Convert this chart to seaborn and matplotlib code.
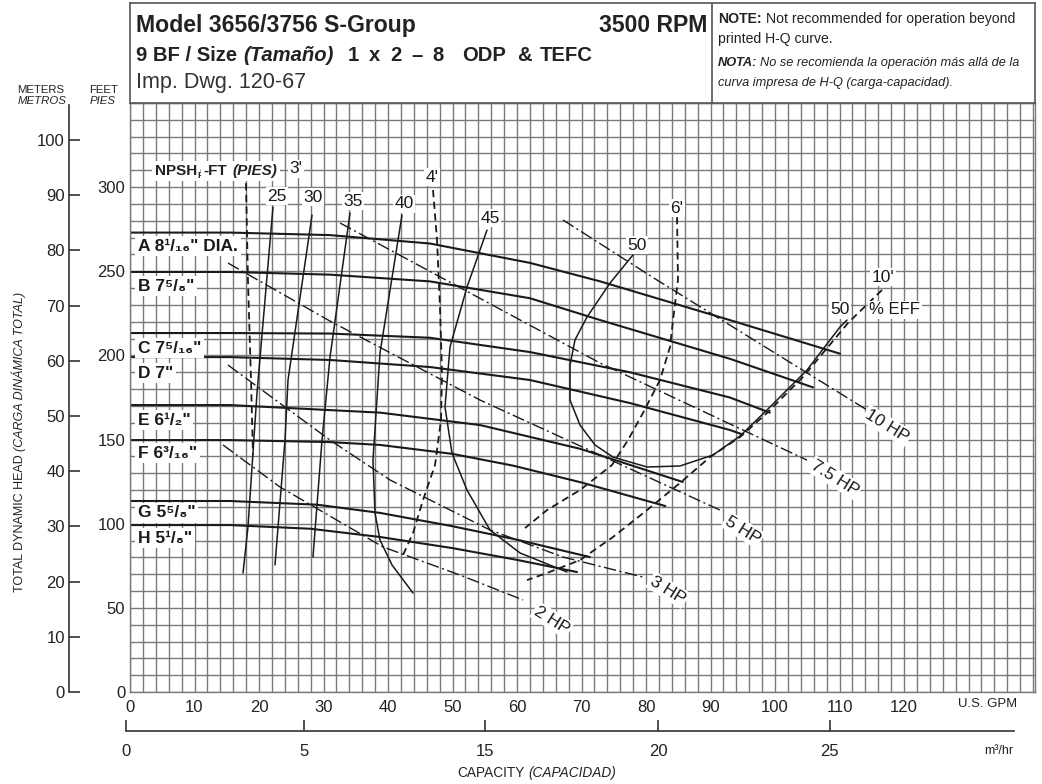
import matplotlib
matplotlib.use("Agg")
import numpy as np
import pandas as pd
import matplotlib.pyplot as plt
import seaborn as sns
from matplotlib import font_manager as fm

# ---------------- data (capacity in U.S. GPM, head in feet) ----------------
imp_labels = ['A 8¹/₁₆" DIA.', 'B 7⁵/₈"', 'C 7⁵/₁₆"', 'D 7"', 'E 6¹/₂"', 'F 6³/₁₆"', 'G 5⁵/₈"', 'H 5¹/₈"']
imp_A_q = [0, 15.5, 31.0, 46.5, 62.0, 72.9, 93.0, 110.1]
imp_A_h = [273, 273, 271.5, 266.5, 255, 244, 221, 201]
imp_B_q = [0, 15.5, 31.0, 46.5, 62.0, 72.9, 93.0, 105.9]
imp_B_h = [249.6, 249.6, 248, 244, 234, 221, 198, 181]
imp_C_q = [0, 15.5, 31.0, 46.5, 62.0, 77.5, 93.0, 99.2]
imp_C_h = [213.3, 213.3, 213, 210.5, 202, 190, 175, 166]
imp_D_q = [0, 15.5, 31.0, 46.5, 62.0, 77.5, 93.0, 95.0]
imp_D_h = [199, 199, 197.3, 193.1, 185.4, 171.7, 155.7, 153]
imp_E_q = [0, 15.5, 38.8, 54.3, 69.8, 85.7]
imp_E_h = [170.5, 170.5, 166, 158.6, 144.5, 124.8]
imp_F_q = [0, 15.5, 31.0, 38.8, 50.0, 59.4, 70.0, 83.0]
imp_F_h = [149.7, 149.7, 148.5, 146.8, 141.5, 134.5, 124.5, 110.5]
imp_G_q = [0, 15.5, 29.0, 38.8, 50.0, 60.0, 71.3]
imp_G_h = [113.5, 113.5, 111.3, 106.4, 98.5, 90.5, 80.2]
imp_H_q = [0, 15.5, 28.0, 38.8, 50.0, 60.0, 69.3]
imp_H_h = [99.2, 99.2, 97, 92.1, 85.5, 78.5, 71.3]

# efficiency curves (%)
eff25_q = [22.17, 19.69, 18.29, 17.52]
eff25_h = [288.2, 177.7, 98.0, 70.7]
eff30_q = [28.22, 24.50, 24.03, 22.48]
eff30_h = [283.4, 185.4, 149.7, 75.5]
eff35_q = [34.11, 31.01, 29.77, 28.37]
eff35_h = [284.6, 199.0, 149.7, 80.2]
eff40_q = [42.17, 38.76, 37.67, 37.98, 38.76, 40.62, 43.88]
eff40_h = [283.4, 201.4, 137.8, 106.4, 90.3, 75.5, 58.8]
eff45_q = [55.35, 52.25, 49.61, 48.84, 49.92, 52.25, 55.81, 60.47, 67.75]
eff45_h = [274.5, 240.6, 205.0, 169.3, 142.0, 120.0, 96.3, 82.6, 71.3]
eff50_q = [77.98, 74.42, 70.85, 68.99, 68.22, 68.22, 69.77, 72.09, 74.88, 80.16,
           85.27, 90.39, 94.57, 98.76, 104.96, 110.08, 111.16]
eff50_h = [259.7, 243.0, 222.8, 209.2, 194.3, 173.5, 158.6, 146.8, 139.6, 133.7,
           134.3, 140.8, 152.1, 167.6, 191.3, 216.9, 221.0]

# NPSHr curves (feet)
npsh3_q = [17.98, 18.29, 18.76, 19.07]
npsh3_h = [302.4, 244.8, 185.4, 140.8]
npsh4_q = [46.98, 47.60, 48.06, 48.37, 48.22, 47.29, 45.43, 43.88, 42.33]
npsh4_h = [298.3, 268.6, 228.8, 189.5, 161.6, 134.9, 114.1, 94.5, 81.4]
npsh6_q = [84.81, 84.96, 84.19, 83.72, 82.17, 79.53, 77.21, 74.73, 69.77, 64.65, 61.24]
npsh6_h = [282.2, 244.8, 221.0, 205.0, 185.4, 165.8, 149.7, 134.9, 120.0, 108.1, 97.4]
npsh10_q = [116.59, 111.32, 104.34, 98.76, 94.57, 89.92, 85.27, 80.16, 74.88, 69.77, 64.65, 61.55]
npsh10_h = [238.9, 219.3, 187.2, 165.8, 151.5, 139.6, 124.2, 108.1, 92.1, 78.4, 70.7, 66.5]

# horsepower lines
hp10_q = [67.13, 81.71, 114.26]
hp10_h = [280.5, 244.8, 167.6]
hp75_q = [32.56, 72.87, 104.96]
hp75_h = [278.7, 195.5, 137.8]
hp5_q = [15.19, 31.01, 54.26, 72.87, 91.47]
hp5_h = [254.9, 220.4, 173.5, 140.8, 108.1]
hp3_q = [15.19, 31.01, 40.31, 55.81, 67.13, 79.53]
hp3_h = [194.3, 149.7, 126.0, 96.3, 80.2, 68.3]
hp2_q = [14.42, 23.26, 39.22, 51.16, 60.93]
hp2_h = [146.8, 121.8, 86.2, 69.5, 54.7]

gpm_ticks = list(range(0, 121, 10))
feet_ticks = list(range(0, 301, 50))
meter_ticks = list(range(0, 101, 10))
metric_tick_gpm = [-0.6, 27.0, 55.0, 81.9, 108.5]
metric_tick_labels = ['0', '5', '15', '20', '25']

# ---------------- style ----------------
W, H = 1042, 784
sns.set_style("white")
avail = {f.name for f in fm.fontManager.ttflist}
BASE = ['Liberation Sans', 'DejaVu Sans']
plt.rcParams['font.family'] = BASE
HAS_NARROW = 'Liberation Sans Narrow' in avail


def narrow(size, **extra):
    if HAS_NARROW:
        d = dict(family=['Liberation Sans Narrow'] + BASE, fontsize=size)
    else:
        d = dict(family=BASE, fontsize=size * 0.82)
    d.update(extra)
    return d


fig = plt.figure(figsize=(W / 100, H / 100), dpi=100)


def fx(x):
    return x / W


def fy(y):
    return 1 - y / H


PX_PER_GPM = 6.45
X_MAX = 905 / PX_PER_GPM
Y_MAX = 350
GRID = '#7a7a7a'
INK = '#1a1a1a'

ax = fig.add_axes([fx(130), fy(692), 905 / W, 589 / H])


def curve(q, h, **kw):
    df = pd.DataFrame({'q': q, 'h': h})
    sns.lineplot(data=df, x='q', y='h', sort=False, estimator=None, ax=ax,
                 color=INK, **kw)


imp_q = [imp_A_q, imp_B_q, imp_C_q, imp_D_q, imp_E_q, imp_F_q, imp_G_q, imp_H_q]
imp_h = [imp_A_h, imp_B_h, imp_C_h, imp_D_h, imp_E_h, imp_F_h, imp_G_h, imp_H_h]
for q, h in zip(imp_q, imp_h):
    curve(q, h, lw=1.5)
for q, h in [(eff25_q, eff25_h), (eff30_q, eff30_h), (eff35_q, eff35_h),
             (eff40_q, eff40_h), (eff45_q, eff45_h), (eff50_q, eff50_h)]:
    curve(q, h, lw=1.1)
for q, h in [(npsh3_q, npsh3_h), (npsh4_q, npsh4_h), (npsh6_q, npsh6_h), (npsh10_q, npsh10_h)]:
    curve(q, h, lw=1.3, linestyle=(0, (4, 2.5)))
for q, h in [(hp10_q, hp10_h), (hp75_q, hp75_h), (hp5_q, hp5_h), (hp3_q, hp3_h), (hp2_q, hp2_h)]:
    curve(q, h, lw=1.0, linestyle=(0, (9, 2.5, 1.5, 2.5)))

ax.set_xlim(0, X_MAX)
ax.set_ylim(0, Y_MAX)
ax.set_xlabel('')
ax.set_ylabel('')
ax.set_xticks(gpm_ticks)
ax.set_xticklabels([str(t) for t in gpm_ticks])
ax.set_xticks(np.arange(0, X_MAX, 2), minor=True)
ax.set_yticks(feet_ticks)
ax.set_yticklabels([str(t) for t in feet_ticks])
ax.set_yticks(np.arange(0, Y_MAX + 1, 10), minor=True)
ax.tick_params(which='both', length=0)
ax.tick_params(axis='x', pad=6, labelsize=12, labelcolor='#222')
ax.tick_params(axis='y', pad=3.5, labelsize=12, labelcolor='#222')
ax.grid(which='both', color=GRID, lw=1.0)
ax.set_axisbelow(True)
for s in ax.spines.values():
    s.set_color(GRID)
    s.set_linewidth(1.0)

# curve labels
WB = dict(facecolor='white', edgecolor='none', pad=1.2)
imp_label_h = [265.0, 241.2, 204.4, 189.5, 161.6, 142.0, 106.4, 91.5]
for lab, hh in zip(imp_labels, imp_label_h):
    ax.text(1.24, hh, lab, ha='left', va='center', fontsize=12.5, fontweight='bold',
            color=INK, bbox=dict(facecolor='white', edgecolor='none', pad=2))

small_labels = [('25', 22.79, 294.7), ('30', 28.37, 294.1), ('35', 34.57, 291.7),
                ('40', 42.48, 290.0), ('45', 55.81, 281.6), ('50', 78.60, 265.6),
                ("4'", 46.82, 306.0), ("6'", 84.81, 287.6), ("3'", 25.74, 310.8),
                ('50', 110.08, 227.0), ("10'", 116.74, 246.6)]
for s, q, h in small_labels:
    ax.text(q, h, s, ha='center', va='center', fontsize=12.5, color=INK, bbox=WB)
ax.text(114.6, 227.0, '% EFF', ha='left', va='center', fontsize=12, color=INK, bbox=WB)

hp_labels = [('10 HP', 117.36, 158.1), ('7.5 HP', 109.30, 127.2), ('5 HP', 95.04, 96.3),
             ('3 HP', 83.41, 60.6), ('2 HP', 65.43, 42.8)]
for s, q, h in hp_labels:
    ax.text(q, h, s, ha='center', va='center', rotation=-32, rotation_mode='anchor',
            fontsize=12.5, color=INK, bbox=WB)

# meters axis
axm = fig.add_axes([fx(69), fy(692), 0.03, 589 / H])
axm.patch.set_visible(False)
axm.set_ylim(0, Y_MAX / 3.2808)
for s in ['top', 'right', 'bottom']:
    axm.spines[s].set_visible(False)
axm.spines['left'].set_bounds(0, 106.3)
axm.spines['left'].set_color('#333')
axm.spines['left'].set_linewidth(1.2)
axm.set_xticks([])
axm.set_yticks(meter_ticks)
axm.set_yticklabels([str(t) for t in meter_ticks])
axm.tick_params(axis='y', left=True, direction='in', length=8, width=1.2, pad=3,
                labelsize=12, color='#333', labelcolor='#222')

# metric capacity axis
x0 = 130 - 0.6 * PX_PER_GPM
axb = fig.add_axes([fx(x0), fy(731), (1035 - x0) / W, 20 / H])
axb.patch.set_visible(False)
axb.set_xlim(-0.6, X_MAX)
for s in ['top', 'right', 'left']:
    axb.spines[s].set_visible(False)
axb.spines['bottom'].set_bounds(-0.6, 137.0)
axb.spines['bottom'].set_color('#333')
axb.spines['bottom'].set_linewidth(1.2)
axb.set_yticks([])
axb.set_xticks(metric_tick_gpm)
axb.set_xticklabels(metric_tick_labels)
axb.tick_params(axis='x', bottom=True, direction='in', length=8, width=1.2, pad=9,
                labelsize=12, color='#333', labelcolor='#222')

# header box
hdr = fig.add_axes([fx(130), fy(103), 905 / W, 100 / H])
hdr.set_xlim(0, 905)
hdr.set_ylim(100, 0)
hdr.set_xticks([])
hdr.set_yticks([])
for s in hdr.spines.values():
    s.set_color('#555')
    s.set_linewidth(1.2)
hdr.plot([582, 582], [0, 100], color='#555', lw=1.2)

renderer = fig.canvas.get_renderer()


def rich(x, y, parts, anchor='left', rotation=0, **common):
    items = []
    total = 0.0
    for p in parts:
        if isinstance(p, (int, float)):
            items.append((None, p))
            total += p
            continue
        s, kw = p
        kk = dict(common)
        kk.update(kw)
        dy = kk.pop('_dy', 0)
        t = fig.text(0, 0, s, **kk)
        w = t.get_window_extent(renderer=renderer).width
        t.remove()
        items.append(((s, kk, dy), w))
        total += w
    pos = {'left': 0.0, 'center': -total / 2, 'right': -total}[anchor]
    for it, w in items:
        if it is not None:
            s, kk, dy = it
            if rotation == 0:
                fig.text(fx(x + pos), fy(y + dy), s, ha='left', va='baseline', **kk)
            else:
                fig.text(fx(x + dy), fy(y - pos), s, ha='left', va='baseline',
                         rotation=90, rotation_mode='anchor', **kk)
        pos += w


B16 = dict(fontsize=16.6, fontweight='bold', color='#222')
B15 = dict(fontsize=14.6, fontweight='bold', color='#222')
BI15 = dict(B15, fontstyle='italic')
rich(136, 32, [("Model 3656/3756 S-Group", B16)])
rich(707, 32, [("3500 RPM", B16)], anchor='right')
rich(136, 61, [("9 BF / Size", B15), 6, ("(Tamaño)", BI15), 14,
               ("1", B15), 10, ("x", B15), 10, ("2", B15), 10, ("–", B15), 10, ("8", B15), 18,
               ("ODP", B15), 12, ("&", B15), 7, ("TEFC", B15)])
rich(136, 88, [("Imp. Dwg. 120-67", dict(fontsize=15.5, color='#333'))])

NS = 12.3
rich(718, 23, [("NOTE:", narrow(NS, fontweight='bold', color='#222')), 4,
               ("Not recommended for operation beyond", narrow(NS, color='#222'))])
rich(718, 43, [("printed H-Q curve.", narrow(NS, color='#222'))])
rich(718, 66, [("NOTA:", narrow(11.2, fontweight='bold', fontstyle='italic', color='#222')), 3,
               ("No se recomienda la operación más allá de la", narrow(11.2, fontstyle='italic', color='#222'))])
rich(718, 86, [("curva impresa de H-Q (carga-capacidad).", narrow(11.2, fontstyle='italic', color='#222'))])

rich(41, 93, [("METERS", narrow(10, color='#222'))], anchor='center')
rich(42, 104, [("METROS", narrow(10, fontstyle='italic', color='#222'))], anchor='center')
rich(104, 93, [("FEET", narrow(10, color='#222'))], anchor='center')
rich(103, 104, [("PIES", narrow(10, fontstyle='italic', color='#222'))], anchor='center')

rich(23, 442, [("TOTAL DYNAMIC HEAD", narrow(11, color='#222')), 4,
               ("(CARGA DINÁMICA TOTAL)", narrow(11, fontstyle='italic', color='#222'))],
     anchor='center', rotation=90)

rich(1017, 707, [("U.S. GPM", narrow(11.5, color='#222'))], anchor='right')
rich(1013, 754, [("m³/hr", narrow(11, color='#222'))], anchor='right')
rich(537, 777, [("CAPACITY", narrow(12, color='#222')), 4,
                ("(CAPACIDAD)", narrow(12, fontstyle='italic', color='#222'))], anchor='center')

NB = dict(facecolor='white', edgecolor='none', pad=2)
rich(155, 175, [("NPSH", dict(fontsize=11, fontweight='bold', color='#222', bbox=NB)),
                ("R", dict(fontsize=6.5, fontweight='bold', color='#222', _dy=3)),
                ("-FT", dict(fontsize=11, fontweight='bold', color='#222', bbox=NB)), 5,
                ("(PIES)", dict(fontsize=11, fontweight='bold', fontstyle='italic', color='#222', bbox=NB))])

fig.savefig('out.png', dpi=100)
